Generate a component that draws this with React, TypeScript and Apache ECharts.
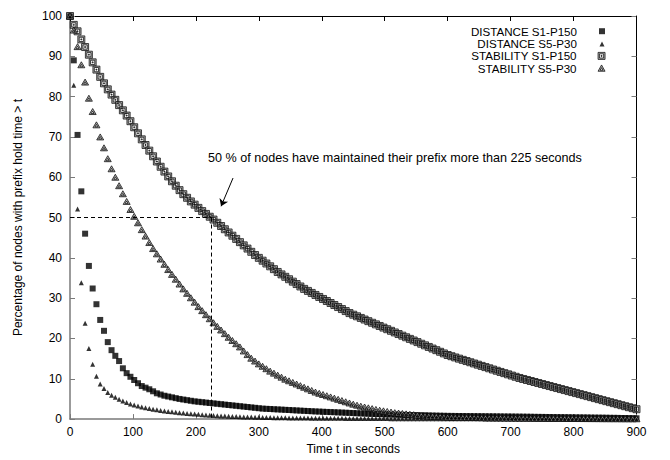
import { useEffect, useRef } from "react";
import * as echarts from "echarts";

// Sampling step of the measurements (seconds between markers)
const TIME_STEP_S = 6;

const SERIES_NAMES = [
  "DISTANCE S1-P150",
  "DISTANCE S5-P30",
  "STABILITY S1-P150",
  "STABILITY S5-P30",
];

const distanceS1P150 = [
  100, 89, 70.5, 56.5, 46, 38, 32.4, 28.5, 24.6, 21.9,
  19.1, 17.1, 15.7, 14.4, 12.6, 11.4, 10.5, 9.7, 8.9, 8.2,
  7.8, 7.4, 6.9, 6.4, 6.1, 5.8, 5.6, 5.4, 5.2, 5.0,
  4.85, 4.7, 4.55, 4.4, 4.3, 4.2, 4.1, 4.0, 3.9, 3.8,
  3.7, 3.6, 3.5, 3.4, 3.3, 3.2, 3.1, 3.0, 2.9, 2.8,
  2.7, 2.6, 2.55, 2.5, 2.45, 2.4, 2.35, 2.3, 2.25, 2.2,
  2.15, 2.1, 2.05, 2.0, 1.95, 1.9, 1.86, 1.82, 1.78, 1.74,
  1.7, 1.66, 1.62, 1.58, 1.54, 1.5, 1.46, 1.42, 1.38, 1.34,
  1.3, 1.27, 1.24, 1.21, 1.18, 1.15, 1.12, 1.09, 1.06, 1.03,
  1.0, 0.98, 0.96, 0.94, 0.92, 0.9, 0.88, 0.86, 0.84, 0.82,
  0.8, 0.79, 0.78, 0.77, 0.76, 0.75, 0.74, 0.73, 0.72, 0.71,
  0.7, 0.69, 0.68, 0.67, 0.66, 0.65, 0.64, 0.63, 0.62, 0.61,
  0.6, 0.59, 0.58, 0.56, 0.55, 0.54, 0.53, 0.52, 0.5, 0.49,
  0.48, 0.47, 0.46, 0.44, 0.43, 0.42, 0.41, 0.4, 0.38, 0.37,
  0.36, 0.35, 0.34, 0.32, 0.31, 0.3, 0.28, 0.27, 0.25, 0.23,
  0.2,
];

const distanceS5P30 = [
  100, 82.8, 52.1, 33.8, 23.8, 17.5, 13.6, 10.6, 8.7, 7.6,
  6.6, 5.9, 5.4, 4.95, 4.5, 4.1, 3.75, 3.5, 3.25, 3.0,
  2.8, 2.6, 2.45, 2.3, 2.15, 2.0, 1.9, 1.8, 1.7, 1.6,
  1.5, 1.42, 1.34, 1.26, 1.18, 1.1, 1.02, 0.95, 0.9, 0.85,
  0.8, 0.75, 0.7, 0.66, 0.62, 0.58, 0.55, 0.52, 0.49, 0.46,
  0.43, 0.41, 0.39, 0.37, 0.35, 0.34, 0.32, 0.31, 0.3, 0.29,
  0.28, 0.27, 0.26, 0.25, 0.24, 0.23, 0.22, 0.21, 0.2, 0.2,
  0.19, 0.18, 0.18, 0.17, 0.16, 0.16, 0.15, 0.15, 0.14, 0.14,
  0.13, 0.13, 0.12, 0.12, 0.12, 0.11, 0.11, 0.1, 0.1, 0.1,
  0.09, 0.09, 0.09, 0.08, 0.08, 0.08, 0.08, 0.07, 0.07, 0.07,
  0.07, 0.06, 0.06, 0.06, 0.06, 0.06, 0.06, 0.06, 0.06, 0.06,
  0.05, 0.05, 0.05, 0.05, 0.05, 0.05, 0.05, 0.05, 0.05, 0.05,
  0.05, 0.05, 0.05, 0.05, 0.05, 0.04, 0.04, 0.04, 0.04, 0.04,
  0.04, 0.04, 0.04, 0.04, 0.04, 0.03, 0.03, 0.03, 0.03, 0.03,
  0.03, 0.03, 0.03, 0.03, 0.03, 0.02, 0.02, 0.02, 0.02, 0.02,
  0.02,
];

const stabilityS1P150 = [
  100, 97.8, 96.2, 94.2, 92.3, 90.4, 88.5, 86.7, 84.9, 83.3,
  81.8, 80.5, 79.2, 77.9, 76.6, 75.3, 73.9, 72.4, 70.9, 69.4,
  68.0, 66.6, 65.2, 63.9, 62.6, 61.4, 60.2, 59.0, 57.9, 56.8,
  55.8, 54.9, 54.0, 53.2, 52.4, 51.6, 50.9, 50.2, 49.5, 48.7,
  47.9, 47.1, 46.3, 45.5, 44.7, 43.9, 43.1, 42.3, 41.5, 40.7,
  40.0, 39.3, 38.6, 37.9, 37.2, 36.5, 35.9, 35.3, 34.7, 34.1,
  33.5, 32.9, 32.3, 31.8, 31.3, 30.8, 30.3, 29.8, 29.3, 28.8,
  28.3, 27.8, 27.3, 26.8, 26.3, 25.9, 25.5, 25.1, 24.7, 24.3,
  23.9, 23.5, 23.1, 22.7, 22.3, 21.9, 21.5, 21.1, 20.7, 20.3,
  19.9, 19.5, 19.1, 18.7, 18.3, 17.9, 17.5, 17.1, 16.7, 16.3,
  15.9, 15.6, 15.3, 15.0, 14.7, 14.4, 14.1, 13.8, 13.5, 13.2,
  12.9, 12.6, 12.3, 12.0, 11.7, 11.4, 11.1, 10.8, 10.5, 10.2,
  9.95, 9.7, 9.45, 9.2, 8.95, 8.7, 8.45, 8.2, 7.95, 7.7,
  7.45, 7.2, 6.95, 6.7, 6.45, 6.2, 5.95, 5.7, 5.45, 5.2,
  4.95, 4.7, 4.45, 4.2, 3.95, 3.7, 3.45, 3.2, 2.95, 2.7,
  2.45,
];

const stabilityS5P30 = [
  100, 96.5, 92.4, 87.9, 83.6, 79.6, 76.3, 73.0, 70.0, 67.3,
  64.6, 62.1, 60.0, 57.9, 55.9, 54.0, 52.0, 50.3, 48.7, 47.0,
  45.4, 43.8, 42.3, 41.0, 39.7, 38.4, 37.1, 35.9, 34.7, 33.5,
  32.3, 31.2, 30.1, 29.0, 27.9, 26.9, 25.9, 24.9, 23.9, 23.0,
  22.1, 21.2, 20.3, 19.5, 18.7, 17.9, 16.9, 16.0, 15.1, 14.4,
  13.7, 13.1, 12.5, 11.9, 11.4, 10.9, 10.4, 9.9, 9.5, 9.1,
  8.7, 8.3, 7.9, 7.5, 7.1, 6.7, 6.4, 6.1, 5.8, 5.5,
  5.2, 4.9, 4.6, 4.3, 4.0, 3.7, 3.45, 3.2, 3.0, 2.8,
  2.6, 2.4, 2.2, 2.05, 1.9, 1.75, 1.6, 1.5, 1.4, 1.3,
  1.2, 1.1, 1.0, 0.9, 0.85, 0.8, 0.75, 0.7, 0.65, 0.6,
  0.55, 0.52, 0.5, 0.48, 0.46, 0.44, 0.42, 0.4, 0.38, 0.36,
  0.35, 0.34, 0.33, 0.32, 0.31, 0.3, 0.29, 0.28, 0.27, 0.26,
  0.25, 0.24, 0.23, 0.22, 0.21, 0.2, 0.2, 0.19, 0.18, 0.18,
  0.17, 0.16, 0.16, 0.15, 0.15, 0.14, 0.14, 0.13, 0.13, 0.12,
  0.12, 0.11, 0.11, 0.1, 0.1, 0.1, 0.09, 0.09, 0.08, 0.08,
  0.08,
];

// Annotation: 50 % threshold reached at 225 s
const HALF_T = 225;
const HALF_PCT = 50;
const ARROW_FROM = [259, 59.8];
const ARROW_TO = [240, 52.8];
const ANNOTATION = "50 % of nodes have maintained their prefix more than 225 seconds";

const X_MIN = 0;
const X_MAX = 900;
const X_STEP = 100;
const Y_MIN = 0;
const Y_MAX = 100;
const Y_STEP = 10;

const FONT = "'Liberation Sans', Arial, Helvetica, sans-serif";

export default function App() {
  const ref = useRef<HTMLDivElement>(null);

  useEffect(() => {
    document.body.style.margin = "0";
    const chart = echarts.init(ref.current!, null, { renderer: "svg" });
    const toPairs = (vals: number[]) => vals.map((v, i) => [i * TIME_STEP_S, v]);

    const gray = "#7a7a7a";
    const baseAxis = {
      type: "value" as const,
      splitLine: { show: false },
    };

    // open square: gray ring with white hole and a small centre dot
    const openSquare = "path://M0 0H10V10H0Z M2 2V8H8V2Z M4.3 4.3H5.7V5.7H4.3Z";
    // open triangle: gray ring with white hole
    const openTriangle = "path://M5 0L10 9L0 9Z M5 3.9L2.9 7.5L7.1 7.5Z";

    const blackSquare = { symbol: "rect", itemStyle: { color: "#000" } };
    const blackTriangle = { symbol: "triangle", itemStyle: { color: "#000" } };
    const openSquareStyle = {
      symbol: openSquare,
      itemStyle: { color: "#a0a0a0", borderColor: "#000", borderWidth: 0.9 },
    };
    const openTriangleStyle = {
      symbol: openTriangle,
      itemStyle: { color: "#a0a0a0", borderColor: "#000", borderWidth: 0.9 },
    };
    const markerStyles = [blackSquare, blackTriangle, openSquareStyle, openTriangleStyle];

    // legend layout: icon centre x, text right edge x (pixels), row centres
    const iconCx = 602;
    const textRight = 577;
    const iconSizes = [6, 5, 7, 7];
    const rowCenters = [28.2, 40.4, 53.4, 65.6];

    const option: any = {
      animation: false,
      backgroundColor: "#fff",
      textStyle: { fontFamily: FONT },
      grid: { left: 70, right: 33.5, top: 16, bottom: 40, containLabel: false },
      xAxis: [
        {
          ...baseAxis,
          position: "bottom",
          min: X_MIN,
          max: X_MAX,
          interval: X_STEP,
          axisLine: { show: true, lineStyle: { color: gray, width: 1.5 } },
          axisTick: { show: true, inside: true, length: 5, lineStyle: { color: gray } },
          axisLabel: { color: "#000", fontSize: 12, margin: 7, fontFamily: FONT },
          name: "Time t in seconds",
          nameLocation: "middle",
          nameGap: 22,
          nameTextStyle: { color: "#000", fontSize: 12, fontFamily: FONT },
        },
        {
          ...baseAxis,
          position: "top",
          min: X_MIN,
          max: X_MAX,
          interval: X_STEP,
          axisLine: { show: true, onZero: false, lineStyle: { color: "#000", width: 1 } },
          axisTick: { show: true, inside: true, length: 5, lineStyle: { color: "#000" } },
          axisLabel: { show: false },
        },
      ],
      yAxis: [
        {
          ...baseAxis,
          position: "left",
          min: Y_MIN,
          max: Y_MAX,
          interval: Y_STEP,
          axisLine: { show: true, lineStyle: { color: gray, width: 1.5 } },
          axisTick: { show: true, inside: true, length: 5, lineStyle: { color: gray } },
          axisLabel: { color: "#000", fontSize: 12, margin: 8, fontFamily: FONT },
          name: "Percentage of nodes with prefix hold time > t",
          nameLocation: "middle",
          nameGap: 46,
          nameTextStyle: { color: "#000", fontSize: 12, fontFamily: FONT },
        },
        {
          ...baseAxis,
          position: "right",
          min: Y_MIN,
          max: Y_MAX,
          interval: Y_STEP,
          axisLine: { show: true, onZero: false, lineStyle: { color: "#000", width: 1 } },
          axisTick: { show: true, inside: true, length: 5, lineStyle: { color: gray } },
          axisLabel: { show: false },
        },
      ],
      legend: SERIES_NAMES.map((name, i) => {
        const w = iconSizes[i];
        return {
          data: [
            {
              name,
              icon: markerStyles[i].symbol,
              itemStyle: markerStyles[i].itemStyle,
            },
          ],
          right: 670 - (iconCx + w / 2),
          top: rowCenters[i] - w / 2,
          orient: "horizontal",
          align: "right",
          itemWidth: w,
          itemHeight: w,
          padding: 0,
          selectedMode: false,
          textStyle: {
            color: "#000",
            fontSize: 11.6,
            lineHeight: 11.6,
            fontFamily: FONT,
            padding: [0, iconCx - w / 2 - 5 - textRight, 0, 0],
          },
        };
      }),
      graphic: [
        {
          type: "text",
          left: 208,
          top: 151,
          silent: true,
          style: { text: ANNOTATION, fill: "#000", fontSize: 12.6, fontFamily: FONT },
        },
      ],
      series: [
        {
          name: SERIES_NAMES[0],
          type: "scatter",
          ...blackSquare,
          symbolSize: 6,
          data: toPairs(distanceS1P150),
          markLine: {
            silent: true,
            symbol: ["none", "none"],
            label: { show: false },
            lineStyle: { color: "#000", width: 1, type: [4, 3] },
            data: [
              [{ coord: [X_MIN, HALF_PCT] }, { coord: [HALF_T, HALF_PCT] }],
              [{ coord: [HALF_T, HALF_PCT] }, { coord: [HALF_T, Y_MIN] }],
              [
                { coord: ARROW_FROM, symbol: "none", lineStyle: { type: "solid", color: "#000", width: 1 } },
                { coord: ARROW_TO, symbol: "arrow", symbolSize: 7 },
              ],
            ],
          },
        },
        {
          name: SERIES_NAMES[1],
          type: "scatter",
          ...blackTriangle,
          symbolSize: 5,
          data: toPairs(distanceS5P30),
        },
        {
          name: SERIES_NAMES[2],
          type: "scatter",
          ...openSquareStyle,
          symbolSize: 7,
          symbolKeepAspect: true,
          data: toPairs(stabilityS1P150),
        },
        {
          name: SERIES_NAMES[3],
          type: "scatter",
          ...openTriangleStyle,
          symbolSize: [7, 6],
          data: toPairs(stabilityS5P30),
        },
      ],
    };

    chart.setOption(option);
    return () => chart.dispose();
  }, []);

  return <div ref={ref} style={{ width: 670, height: 460 }} />;
}
